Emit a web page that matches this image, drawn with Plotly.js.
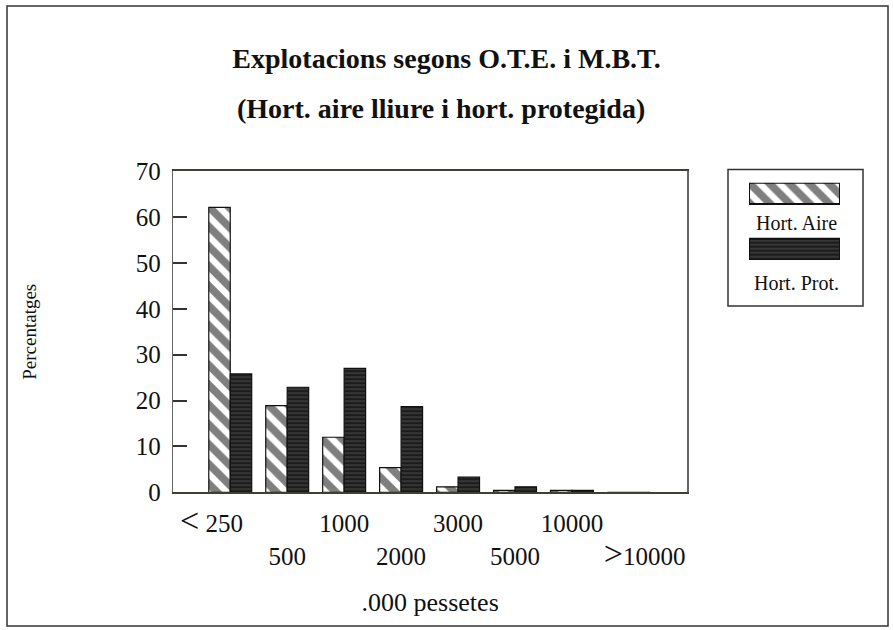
<!DOCTYPE html>
<html>
<head>
<meta charset="utf-8">
<script src="https://cdn.plot.ly/plotly-3.0.1.min.js"></script>
<style>
  html, body { margin: 0; padding: 0; background: #ffffff; }
  #chart { width: 893px; height: 630px; }
</style>
</head>
<body>
<div id="chart"></div>
<script>
// ---- data ----
const categories = ["< 250", "500", "1000", "2000", "3000", "5000", "10000", "> 10000"];
const tickLabels = [
  "<span style='font-size:34px'>&lt;</span> 250&nbsp;&nbsp;&nbsp;&nbsp;&nbsp;&nbsp;",
  "<br>500",
  "1000",
  "<br>2000",
  "3000",
  "<br>5000",
  "10000",
  "<br>&nbsp;&nbsp;&nbsp;&nbsp;&nbsp;<span style='font-size:34px'>&gt;</span>10000"
];
const seriesNames = ["Hort. Aire", "Hort. Prot."];
const horAire = [62.1, 18.9, 12.0, 5.4, 1.2, 0.4, 0.4, 0];
const horProt = [25.8, 22.9, 27.0, 18.7, 3.3, 1.2, 0.4, 0];
const yTicks = [0, 10, 20, 30, 40, 50, 60, 70];
const legendSwatch = [1, 1];

const W = 893, H = 630;
const FONT = "Liberation Serif, Times New Roman, serif";
const px = v => v / W;
const py = v => 1 - v / H;

const airePattern = { shape: "\\", size: 14, solidity: 0.55, fgcolor: "#000000", bgcolor: "#ffffff", fillmode: "overlay" };
const protPattern = { shape: "-", size: 4, solidity: 0.2, fgcolor: "#a0a0a0", bgcolor: "#1c1c1c", fillmode: "overlay" };

const traces = [
  {
    type: "bar", name: seriesNames[0], x: categories, y: horAire,
    marker: { color: "#ffffff", pattern: airePattern, line: { color: "#111", width: 1.2 } },
    showlegend: false, hoverinfo: "x+y"
  },
  {
    type: "bar", name: seriesNames[1], x: categories, y: horProt,
    marker: { color: "#222222", pattern: protPattern, line: { color: "#111", width: 1.2 } },
    showlegend: false, hoverinfo: "x+y"
  },
  // legend swatches (drawn in a small hidden subplot)
  {
    type: "bar", orientation: "h", xaxis: "x2", yaxis: "y2",
    y: [seriesNames[0]], x: [legendSwatch[0]], width: 0.38, offsetgroup: "leg",
    marker: { color: "#ffffff", pattern: airePattern, line: { color: "#111", width: 2 } },
    showlegend: false, hoverinfo: "skip"
  },
  {
    type: "bar", orientation: "h", xaxis: "x2", yaxis: "y2",
    y: [seriesNames[1]], x: [legendSwatch[1]], width: 0.38, offsetgroup: "leg",
    marker: { color: "#222222", pattern: protPattern, line: { color: "#111", width: 2 } },
    showlegend: false, hoverinfo: "skip"
  }
];

const layout = {
  width: W, height: H,
  margin: { l: 0, r: 0, t: 0, b: 0 },
  paper_bgcolor: "#ffffff", plot_bgcolor: "#ffffff",
  font: { family: FONT, color: "#111" },
  showlegend: false,
  barmode: "group", bargap: 0.246, bargroupgap: 0,
  title: {
    text: "<b>Explotacions segons O.T.E. i M.B.T.</b>",
    font: { family: FONT, size: 28, color: "#111" },
    x: 0.5, xanchor: "center", xref: "container",
    y: py(58), yanchor: "middle", yref: "container"
  },
  xaxis: {
    domain: [px(173.3), px(687)],
    type: "category", categoryarray: categories,
    range: [-1, 8.02],
    tickvals: categories, ticktext: tickLabels, tickangle: 0,
    ticks: "", tickfont: { family: FONT, size: 25, color: "#111" },
    ticklabelstandoff: 8,
    showline: true, mirror: true, linecolor: "#3b4233", linewidth: 2,
    showgrid: false, zeroline: false, automargin: false, fixedrange: true,
    title: { text: ".000 pessetes", font: { family: FONT, size: 26, color: "#111" }, standoff: 22 }
  },
  yaxis: {
    domain: [py(492.3), py(171.2)],
    range: [0, 70], tickvals: yTicks,
    ticks: "inside", ticklen: 14, tickwidth: 2, tickcolor: "#333",
    tickfont: { family: FONT, size: 25, color: "#111" },
    ticklabelstandoff: 6,
    showline: true, mirror: true, linecolor: "#666", linewidth: 1.5,
    showgrid: false, zeroline: false, automargin: false, fixedrange: true,
    title: { text: "Percentatges", font: { family: FONT, size: 19, color: "#111" }, standoff: 94 }
  },
  xaxis2: { domain: [px(749), px(840)], anchor: "y2", range: [0, 1], visible: false, fixedrange: true },
  yaxis2: {
    domain: [py(260), py(182.7)], anchor: "x2", type: "category",
    categoryarray: [seriesNames[1], seriesNames[0]], range: [-0.19, 1.19],
    visible: false, fixedrange: true
  },
  annotations: [
    {
      text: "<b>(Hort. aire lliure i hort. protegida)</b>",
      xref: "paper", yref: "paper", x: px(441), y: py(108),
      xanchor: "center", yanchor: "middle", showarrow: false,
      font: { family: FONT, size: 28, color: "#111" }
    },
    {
      text: seriesNames[0], xref: "paper", yref: "paper", x: px(796), y: py(223),
      xanchor: "center", yanchor: "middle", showarrow: false,
      font: { family: FONT, size: 20, color: "#111" }
    },
    {
      text: seriesNames[1], xref: "paper", yref: "paper", x: px(796), y: py(283),
      xanchor: "center", yanchor: "middle", showarrow: false,
      font: { family: FONT, size: 20, color: "#111" }
    }
  ],
  shapes: [
    { type: "rect", xref: "paper", yref: "paper", x0: px(7), x1: px(888), y0: py(626), y1: py(6),
      line: { color: "#333", width: 1.5 }, fillcolor: "rgba(0,0,0,0)" },
    { type: "rect", xref: "paper", yref: "paper", x0: px(728), x1: px(863), y0: py(306), y1: py(169.5),
      line: { color: "#333", width: 1.5 }, fillcolor: "rgba(0,0,0,0)" }
  ]
};

Plotly.newPlot("chart", traces, layout, { displayModeBar: false, staticPlot: true });
</script>
</body>
</html>
